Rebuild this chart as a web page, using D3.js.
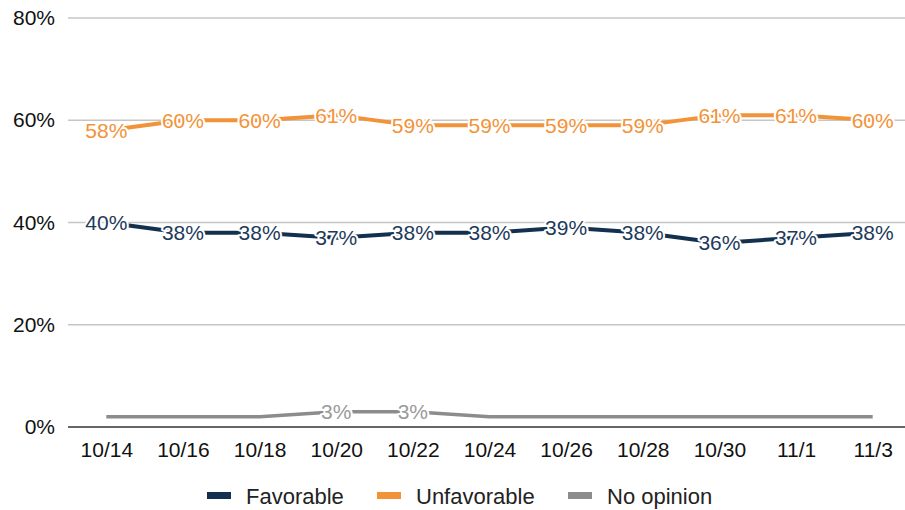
<!DOCTYPE html>
<html><head><meta charset="utf-8">
<script src="https://cdn.jsdelivr.net/npm/d3@7"></script>
<style>
html,body{margin:0;padding:0;background:#fff;}
svg text{font-family:"Liberation Sans", Arial, sans-serif;}
</style></head>
<body><svg id="chart" width="905" height="510"></svg>
<script>
const categories = ["10/14","10/16","10/18","10/20","10/22","10/24","10/26","10/28","10/30","11/1","11/3"];
const favorable   = [40,38,38,37,38,38,39,38,36,37,38];
const unfavorable = [58,60,60,61,59,59,59,59,61,61,60];
const noOpinion   = [2,2,2,3,3,2,2,2,2,2,2];
const noOpinionLabelled = [false,false,false,true,true,false,false,false,false,false,false];
const yTicks = [0,20,40,60,80];
const seriesNames = ["Favorable","Unfavorable","No opinion"];
const colors = ["#13304f","#f29339","#8c8c8c"];
const labelColors = ["#1e3a5a","#f29339","#9a9a9a"];

(function(){
const FONT = "'Liberation Sans', Arial, sans-serif";
const svg = d3.select("#chart");
const mLeft = 68, mRight = 905, mTop = 18, mBottom = 427;
const x = d3.scalePoint().domain(categories).range([mLeft, 911]).padding(0.5);
const y = d3.scaleLinear().domain([0,80]).range([mBottom, mTop]);

svg.append("g").selectAll("line").data(yTicks.filter(d=>d>0)).join("line")
  .attr("x1", mLeft).attr("x2", mRight)
  .attr("y1", d=>y(d)).attr("y2", d=>y(d))
  .attr("stroke", "#c6c6c6").attr("stroke-width", 1.3);

const yAxis = d3.axisLeft(y).tickValues(yTicks).tickFormat(d=>d+"%").tickSize(0).tickPadding(13);
const gy = svg.append("g").attr("transform",`translate(${mLeft},0)`).call(yAxis);
gy.select(".domain").remove();
gy.selectAll("text").attr("font-size", 21).attr("fill","#111").attr("font-family",FONT);

const xAxis = d3.axisBottom(x).tickSize(0).tickPadding(15);
const gx = svg.append("g").attr("transform",`translate(0,${mBottom})`).call(xAxis);
gx.select(".domain").remove();
gx.selectAll("text").attr("font-size", 21).attr("fill","#111").attr("font-family",FONT);
svg.append("line").attr("x1", mLeft).attr("x2", mRight).attr("y1", mBottom).attr("y2", mBottom)
  .attr("stroke","#333").attr("stroke-width",1.5);

const series = [
  {name: seriesNames[0], values: favorable, color: colors[0], lc: labelColors[0], w: 4, labels: favorable.map(()=>true)},
  {name: seriesNames[1], values: unfavorable, color: colors[1], lc: labelColors[1], w: 4, labels: unfavorable.map(()=>true)},
  {name: seriesNames[2], values: noOpinion, color: colors[2], lc: labelColors[2], w: 3.5, labels: noOpinionLabelled}
];
const line = d3.line().x((d,i)=>x(categories[i])).y(d=>y(d));
series.slice().reverse().forEach(s=>{
  svg.append("path").datum(s.values).attr("d", line)
    .attr("fill","none").attr("stroke", s.color).attr("stroke-width", s.w)
    .attr("stroke-linejoin","round");
});
series.forEach(s=>{
  const g = svg.append("g");
  s.values.forEach((v,i)=>{
    if(!s.labels[i]) return;
    g.append("text").attr("x", x(categories[i])).attr("y", y(v))
      .attr("text-anchor","middle").attr("dominant-baseline","central")
      .attr("font-size", 21).attr("fill", s.lc).attr("font-family",FONT)
      .attr("stroke","#fff").attr("stroke-width",4).attr("paint-order","stroke")
      .attr("stroke-linejoin","round")
      .text(v+"%");
  });
});

const legendX = [207, 377, 568];
const lg = svg.append("g");
series.forEach((s,i)=>{
  lg.append("rect").attr("x", legendX[i]).attr("y", 492).attr("width", 24).attr("height", 7).attr("fill", s.color);
  lg.append("text").attr("x", legendX[i]+39).attr("y", 496).attr("dominant-baseline","central")
    .attr("font-size", 22).attr("fill","#222").attr("font-family",FONT).text(s.name);
});
})();
</script></body></html>
